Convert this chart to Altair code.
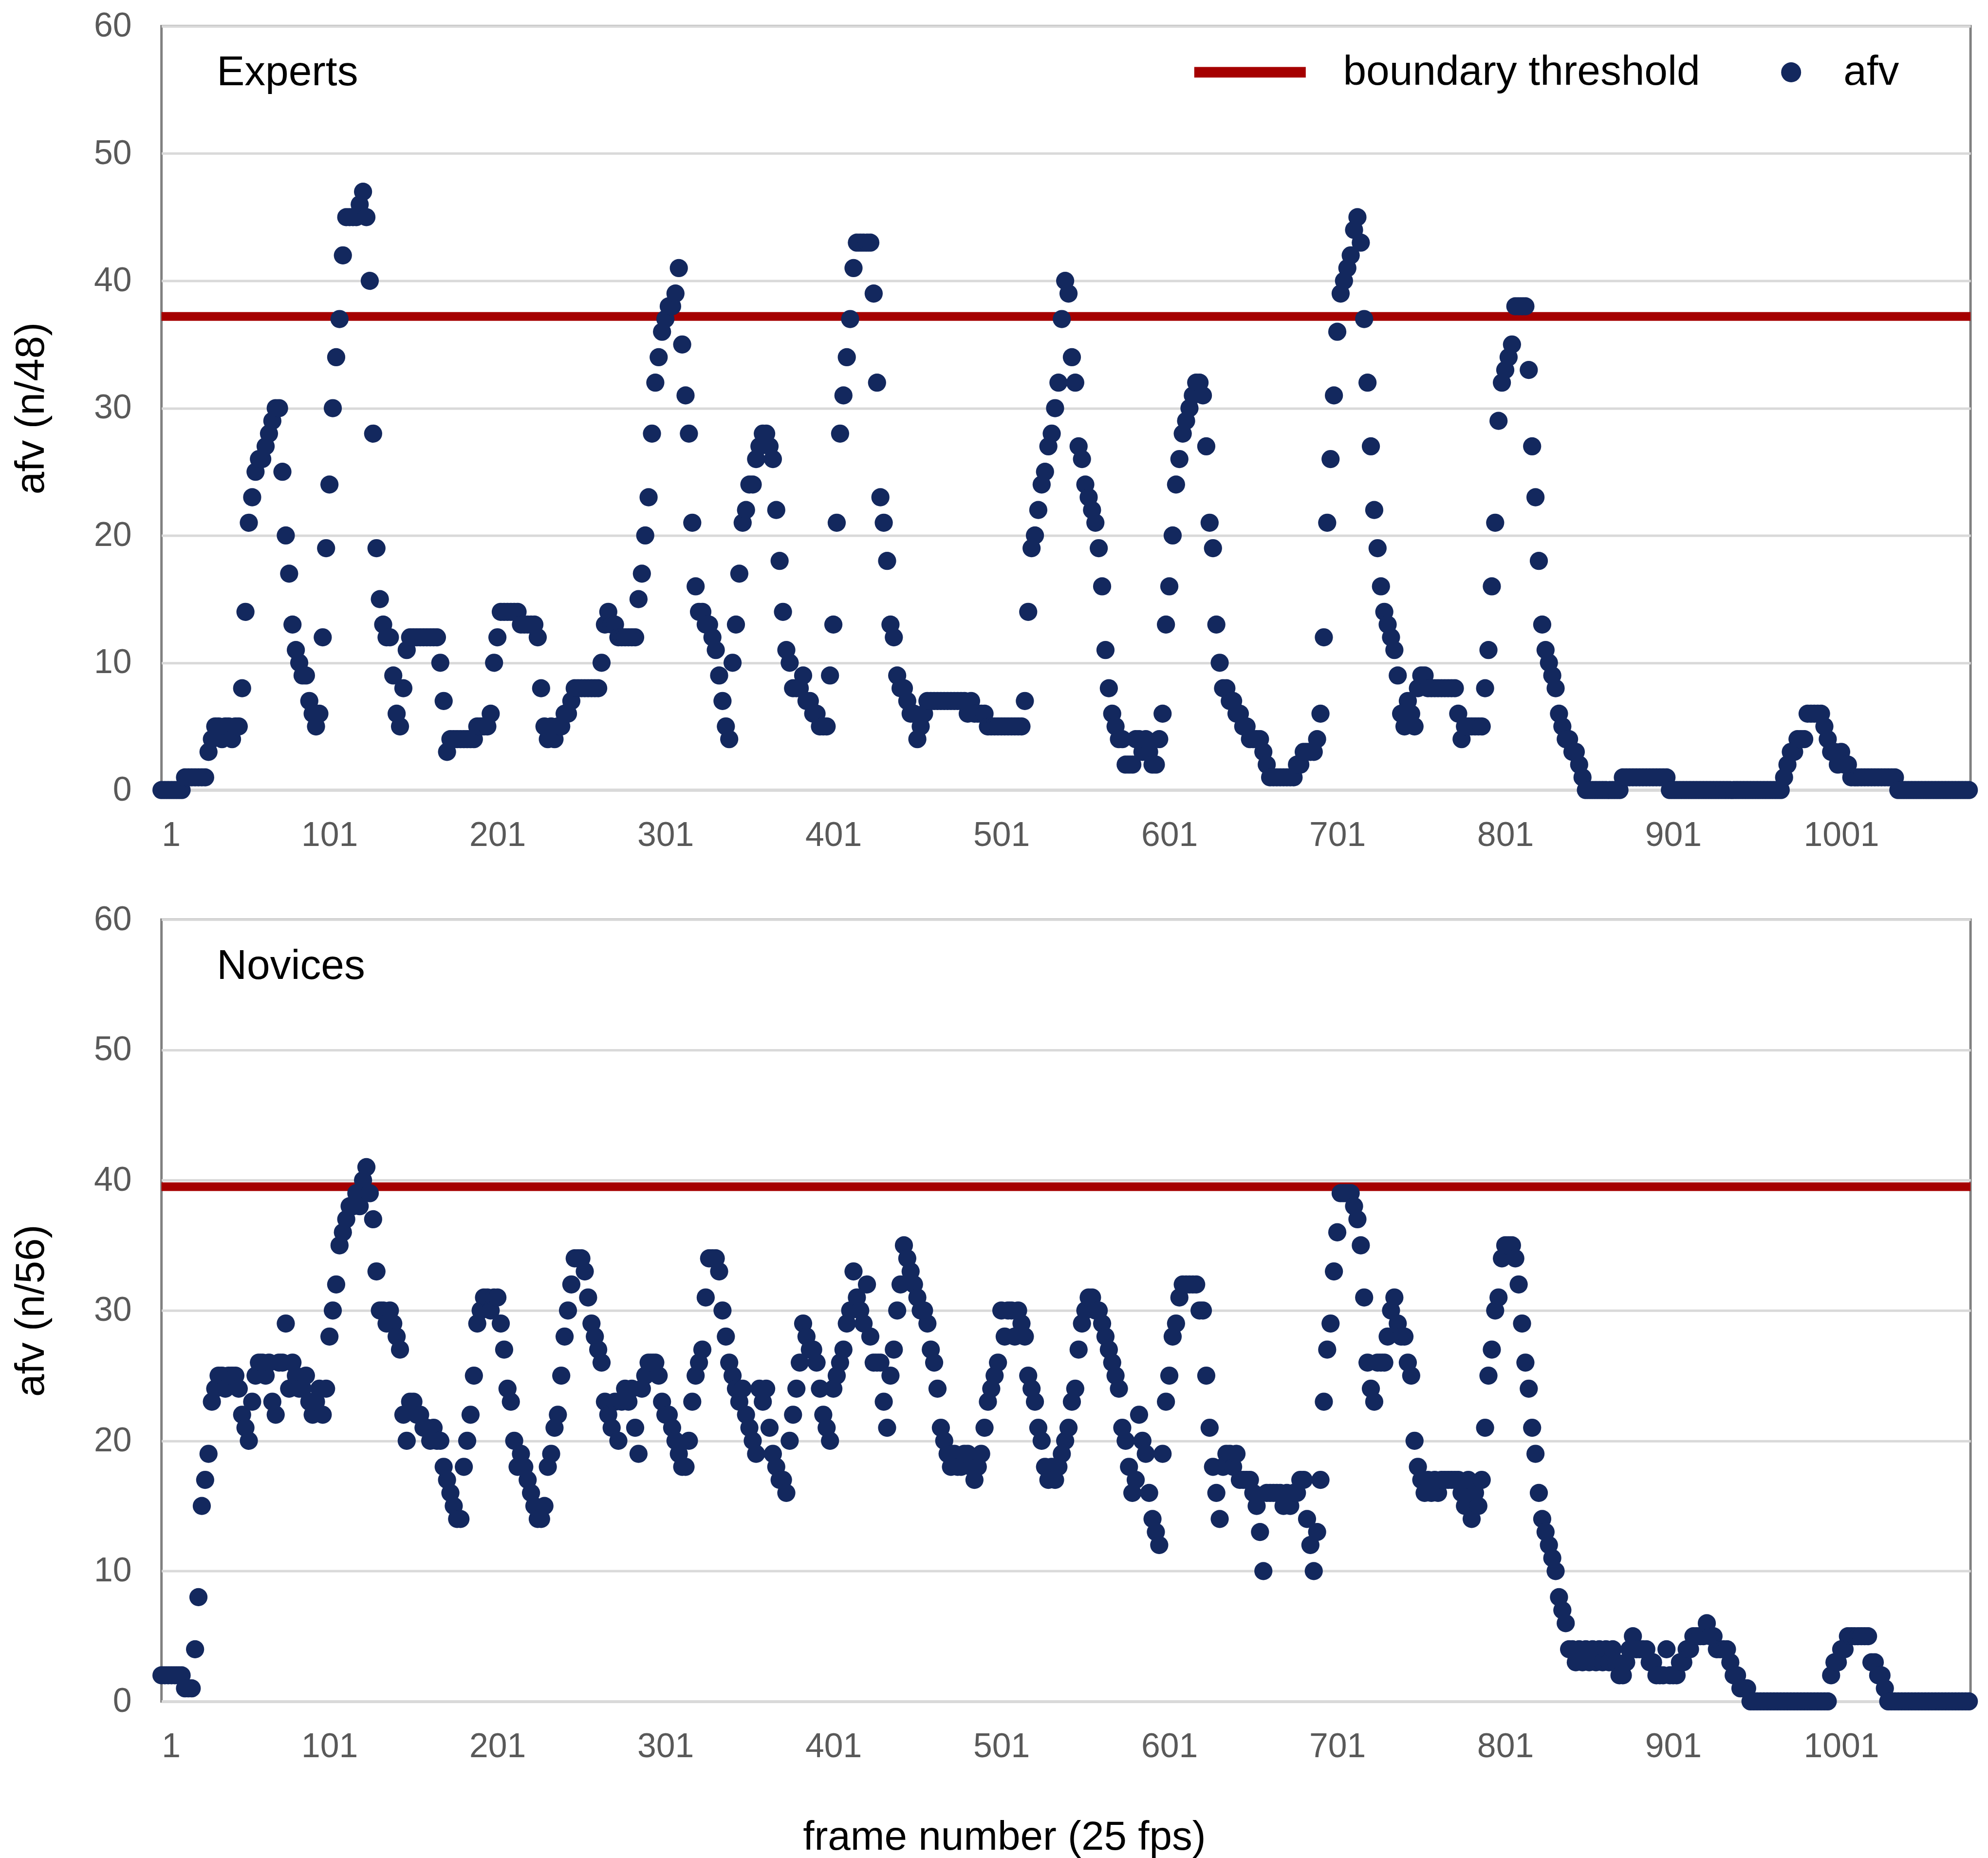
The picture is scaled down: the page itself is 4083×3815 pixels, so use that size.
import altair as alt
import pandas as pd

experts_afv = [
    0, 0, 0, 0, 0, 0, 0, 1, 1, 1, 1, 1, 1, 1, 3, 4, 5, 5, 4, 5, 5, 4, 5, 5, 8,
    14, 21, 23, 25, 26, 26, 27, 28, 29, 30, 30, 25, 20, 17, 13, 11, 10, 9, 9, 7, 6, 5, 6, 12, 19,
    24, 30, 34, 37, 42, 45, 45, 45, 45, 46, 47, 45, 40, 28, 19, 15, 13, 12, 12, 9, 6, 5, 8, 11, 12,
    12, 12, 12, 12, 12, 12, 12, 12, 10, 7, 3, 4, 4, 4, 4, 4, 4, 4, 4, 5, 5, 5, 5, 6, 10,
    12, 14, 14, 14, 14, 14, 14, 13, 13, 13, 13, 13, 12, 8, 5, 4, 5, 4, 5, 5, 6, 6, 7, 8, 8,
    8, 8, 8, 8, 8, 8, 10, 13, 14, 13, 13, 12, 12, 12, 12, 12, 12, 15, 17, 20, 23, 28, 32, 34, 36,
    37, 38, 38, 39, 41, 35, 31, 28, 21, 16, 14, 14, 13, 13, 12, 11, 9, 7, 5, 4, 10, 13, 17, 21, 22,
    24, 24, 26, 27, 28, 28, 27, 26, 22, 18, 14, 11, 10, 8, 8, 8, 9, 7, 7, 6, 6, 5, 5, 5, 9,
    13, 21, 28, 31, 34, 37, 41, 43, 43, 43, 43, 43, 39, 32, 23, 21, 18, 13, 12, 9, 8, 8, 7, 6, 6,
    4, 5, 6, 7, 7, 7, 7, 7, 7, 7, 7, 7, 7, 7, 7, 6, 7, 6, 6, 6, 6, 5, 5, 5, 5,
    5, 5, 5, 5, 5, 5, 5, 7, 14, 19, 20, 22, 24, 25, 27, 28, 30, 32, 37, 40, 39, 34, 32, 27, 26,
    24, 23, 22, 21, 19, 16, 11, 8, 6, 5, 4, 4, 2, 2, 2, 4, 4, 3, 4, 3, 2, 2, 4, 6, 13,
    16, 20, 24, 26, 28, 29, 30, 31, 32, 32, 31, 27, 21, 19, 13, 10, 8, 8, 7, 7, 6, 6, 5, 5, 4,
    4, 4, 4, 3, 2, 1, 1, 1, 1, 1, 1, 1, 1, 2, 2, 3, 3, 3, 3, 4, 6, 12, 21, 26, 31,
    36, 39, 40, 41, 42, 44, 45, 43, 37, 32, 27, 22, 19, 16, 14, 13, 12, 11, 9, 6, 5, 7, 6, 5, 8,
    9, 9, 8, 8, 8, 8, 8, 8, 8, 8, 8, 6, 4, 5, 5, 5, 5, 5, 5, 8, 11, 16, 21, 29, 32,
    33, 34, 35, 38, 38, 38, 38, 33, 27, 23, 18, 13, 11, 10, 9, 8, 6, 5, 4, 4, 3, 3, 2, 1, 0,
    0, 0, 0, 0, 0, 0, 0, 0, 0, 0, 1, 1, 1, 1, 1, 1, 1, 1, 1, 1, 1, 1, 1, 1, 0,
    0, 0, 0, 0, 0, 0, 0, 0, 0, 0, 0, 0, 0, 0, 0, 0, 0, 0, 0, 0, 0, 0, 0, 0, 0,
    0, 0, 0, 0, 0, 0, 0, 0, 1, 2, 3, 3, 4, 4, 4, 6, 6, 6, 6, 6, 5, 4, 3, 3, 2,
    3, 2, 2, 1, 1, 1, 1, 1, 1, 1, 1, 1, 1, 1, 1, 1, 1, 0, 0, 0, 0, 0, 0, 0, 0,
    0, 0, 0, 0, 0, 0, 0, 0, 0, 0, 0, 0, 0, 0,
]

novices_afv = [
    2, 2, 2, 2, 2, 2, 2, 1, 1, 1, 4, 8, 15, 17, 19, 23, 24, 25, 25, 24, 25, 25, 25, 24, 22,
    21, 20, 23, 25, 26, 26, 25, 26, 23, 22, 26, 26, 29, 24, 26, 25, 24, 24, 25, 23, 22, 23, 24, 22, 24,
    28, 30, 32, 35, 36, 37, 38, 38, 39, 38, 40, 41, 39, 37, 33, 30, 30, 29, 30, 29, 28, 27, 22, 20, 23,
    23, 22, 22, 21, 21, 20, 21, 20, 20, 18, 17, 16, 15, 14, 14, 18, 20, 22, 25, 29, 30, 31, 31, 30, 31,
    31, 29, 27, 24, 23, 20, 18, 19, 18, 17, 16, 15, 14, 14, 15, 18, 19, 21, 22, 25, 28, 30, 32, 34, 34,
    34, 33, 31, 29, 28, 27, 26, 23, 22, 21, 23, 20, 23, 24, 23, 24, 21, 19, 24, 25, 26, 26, 26, 25, 23,
    22, 22, 21, 20, 19, 18, 18, 20, 23, 25, 26, 27, 31, 34, 34, 34, 33, 30, 28, 26, 25, 24, 23, 24, 22,
    21, 20, 19, 24, 23, 24, 21, 19, 18, 17, 17, 16, 20, 22, 24, 26, 29, 28, 27, 27, 26, 24, 22, 21, 20,
    24, 25, 26, 27, 29, 30, 33, 31, 30, 29, 32, 28, 26, 26, 26, 23, 21, 25, 27, 30, 32, 35, 34, 33, 32,
    31, 30, 30, 29, 27, 26, 24, 21, 20, 19, 18, 19, 18, 18, 19, 19, 18, 17, 18, 19, 21, 23, 24, 25, 26,
    30, 28, 30, 30, 28, 30, 29, 28, 25, 24, 23, 21, 20, 18, 17, 18, 17, 18, 19, 20, 21, 23, 24, 27, 29,
    30, 31, 31, 30, 30, 29, 28, 27, 26, 25, 24, 21, 20, 18, 16, 17, 22, 20, 19, 16, 14, 13, 12, 19, 23,
    25, 28, 29, 31, 32, 32, 32, 32, 32, 30, 30, 25, 21, 18, 16, 14, 18, 19, 19, 18, 19, 17, 17, 17, 17,
    16, 15, 13, 10, 16, 16, 16, 16, 16, 15, 16, 15, 16, 16, 17, 17, 14, 12, 10, 13, 17, 23, 27, 29, 33,
    36, 39, 39, 39, 39, 38, 37, 35, 31, 26, 24, 23, 26, 26, 26, 28, 30, 31, 29, 28, 28, 26, 25, 20, 18,
    17, 16, 17, 16, 17, 16, 17, 17, 17, 17, 17, 17, 16, 15, 17, 14, 16, 15, 17, 21, 25, 27, 30, 31, 34,
    35, 35, 35, 34, 32, 29, 26, 24, 21, 19, 16, 14, 13, 12, 11, 10, 8, 7, 6, 4, 4, 3, 4, 3, 4,
    3, 4, 3, 4, 3, 4, 3, 4, 3, 2, 2, 3, 4, 5, 4, 4, 4, 4, 3, 3, 2, 2, 2, 4, 2,
    2, 2, 3, 3, 4, 4, 5, 5, 5, 5, 6, 5, 5, 4, 4, 4, 4, 3, 2, 2, 1, 1, 1, 0, 0,
    0, 0, 0, 0, 0, 0, 0, 0, 0, 0, 0, 0, 0, 0, 0, 0, 0, 0, 0, 0, 0, 0, 2, 3, 3,
    4, 4, 5, 5, 5, 5, 5, 5, 5, 3, 3, 2, 2, 1, 0, 0, 0, 0, 0, 0, 0, 0, 0, 0, 0,
    0, 0, 0, 0, 0, 0, 0, 0, 0, 0, 0, 0, 0, 0,
]

x_ticks = [1, 101, 201, 301, 401, 501, 601, 701, 801, 901, 1001]
y_ticks = [0, 10, 20, 30, 40, 50, 60]
thresholds = {"Experts": 37.2, "Novices": 39.5}
y_titles = {"Experts": "afv (n/48)", "Novices": "afv (n/56)"}

NAVY = "#13285e"
RED = "#a50000"
FONT = "Liberation Sans"
W = 3731
HEIGHTS = {"Experts": 1575, "Novices": 1612}


def panel(name, values, bottom):
    df = pd.DataFrame({"frame": [1 + 2 * i for i in range(len(values))],
                       "afv": values, "series": "afv"})
    thr = pd.DataFrame({"t": [thresholds[name]], "series": ["boundary threshold"]})
    lab = pd.DataFrame({"label": [name]})

    x_axis = alt.Axis(values=x_ticks, format="d", grid=False, ticks=False,
                      domainColor="#d9d9d9", domainWidth=6, labelFontSize=70,
                      labelColor="#595959", labelPadding=60, labelFont=FONT,
                      title="frame number (25 fps)" if bottom else None,
                      titleFontSize=84, titleFont=FONT, titleFontWeight="normal",
                      titleColor="black", titlePadding=110, titleX=1738)
    y_axis = alt.Axis(values=y_ticks, grid=True, gridColor="#d9d9d9", gridWidth=5,
                      ticks=False, domain=False, labelFontSize=70, labelColor="#595959",
                      labelPadding=62, labelFont=FONT, title=y_titles[name],
                      titleFontSize=84, titleFont=FONT, titleFontWeight="normal",
                      titleColor="black", titlePadding=85)
    xs = alt.Scale(domain=[1, 1078], nice=False, zero=False)
    ys = alt.Scale(domain=[0, 60], nice=False)

    if not bottom:
        rule_color = alt.Color("series:N",
                               scale=alt.Scale(domain=["boundary threshold"], range=[RED]),
                               legend=alt.Legend(title=None, orient="none", legendX=2202,
                                                 legendY=52, padding=0,
                                                 symbolType="M-4,0H4",
                                                 symbolSize=3306, symbolStrokeWidth=22,
                                                 labelFontSize=86, labelFont=FONT,
                                                 labelColor="black", labelOffset=149,
                                                 labelLimit=3000))
        pt_fill = alt.Fill("series:N",
                           scale=alt.Scale(domain=["afv"], range=[NAVY]),
                           legend=alt.Legend(title=None, orient="none", legendX=3318,
                                             legendY=52, padding=0, symbolType="circle",
                                             symbolSize=1700, symbolOpacity=1,
                                             labelFontSize=86, labelFont=FONT,
                                             labelColor="black", labelOffset=65,
                                             labelLimit=3000))
    else:
        rule_color = alt.value(RED)
        pt_fill = alt.value(NAVY)

    rule = alt.Chart(thr).mark_rule(strokeWidth=18).encode(
        y=alt.Y("t:Q", scale=ys, axis=y_axis), color=rule_color)
    pts = alt.Chart(df).mark_circle(size=1400, opacity=1, stroke=None).encode(
        x=alt.X("frame:Q", scale=xs, axis=x_axis),
        y=alt.Y("afv:Q", scale=ys, axis=y_axis),
        fill=pt_fill)
    text = alt.Chart(lab).mark_text(align="left", baseline="alphabetic", fontSize=86,
                                    font=FONT, color="black").encode(
        x=alt.value(114), y=alt.value(122), text="label:N")
    return alt.layer(rule, pts, text).properties(width=W, height=HEIGHTS[name])


chart = alt.vconcat(panel("Experts", experts_afv, False),
                    panel("Novices", novices_afv, True),
                    spacing=97).properties(
    padding={"left": 12, "top": 0, "right": 10, "bottom": 5}
).configure_view(stroke="#808080", strokeWidth=5)

chart.save("out.html", embed_options={"renderer": "svg", "actions": False})
